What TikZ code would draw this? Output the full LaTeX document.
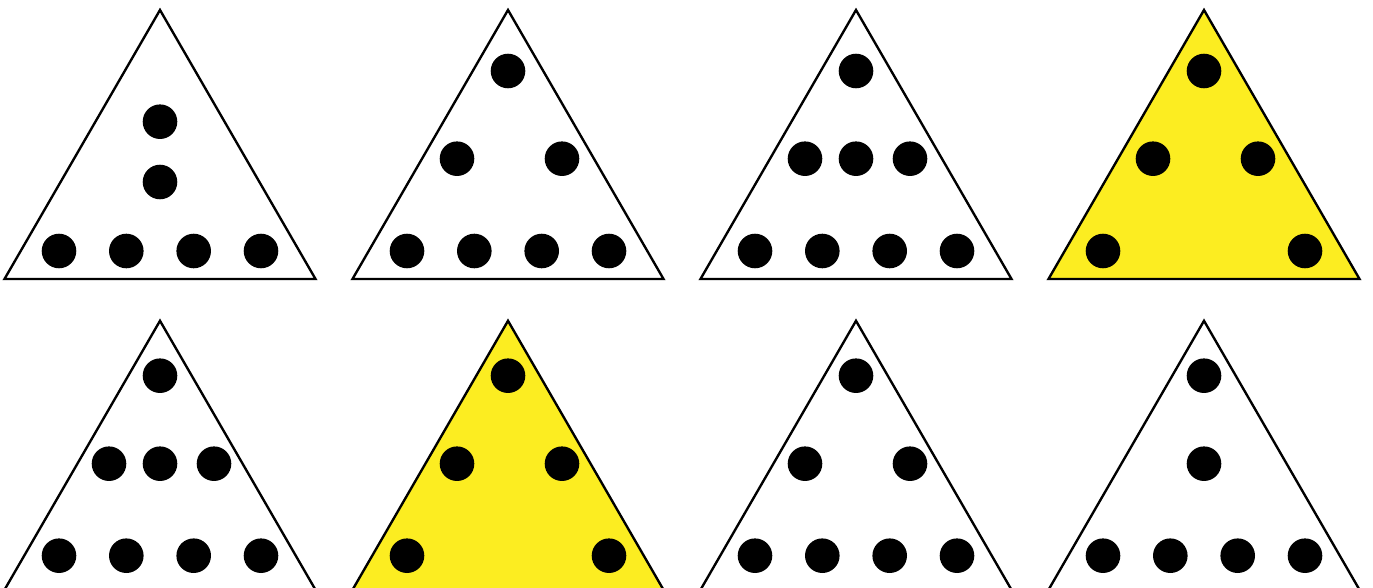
\documentclass[tikz,border=0pt]{standalone}
\usepackage{tikz}
\definecolor{pyryellow}{RGB}{252, 237, 33}

\begin{document}
\begin{tikzpicture}[x=0.02cm, y=-0.02cm,
    tri/.style={draw=black, line width=1.35pt, line join=miter},
    pip/.style={fill=black}]
    % Frame (bottom row runs off the edge)
    \useasboundingbox (0,0) rectangle (1373,588);
    \clip (0,0) rectangle (1373,588);

    % Triangles: apex x / apex y / fill
    \foreach \ax/\ay/\col in {160/10/white, 508/10/white, 856/10/white, 1204/10/pyryellow,
                              160/320.8/white, 508/320.8/pyryellow, 856/320.8/white, 1204/320.8/white} {
        \draw[tri, fill=\col] (\ax,\ay) -- ++(155.5,269) -- ++(-311,0) -- cycle;
    }

    % Rows of four along the base
    \foreach \ax/\by in {160/251, 508/251, 856/251, 160/555.7, 856/555.7, 1204/555.7} {
        \foreach \dx in {-101,-33.7,33.7,101} {
            \fill[pip] (\ax+\dx,\by) circle[radius=0.346cm];
        }
    }

    % Remaining dots
    \foreach \px/\py in {160/121.7, 160/182,
                         508/71, 457/158.7, 562/158.7,
                         856/71, 805/158.7, 856/158.7, 910/158.7,
                         1204/71, 1153/158.7, 1258/158.7, 1103/251, 1305/251,
                         160/375.7, 109/463.7, 160/463.7, 214/463.7,
                         508/375.7, 457/463.7, 562/463.7, 407/555.7, 609/555.7,
                         856/375.7, 805/463.7, 910/463.7,
                         1204/375.7, 1204/463.7} {
        \fill[pip] (\px,\py) circle[radius=0.346cm];
    }
\end{tikzpicture}
\end{document}
